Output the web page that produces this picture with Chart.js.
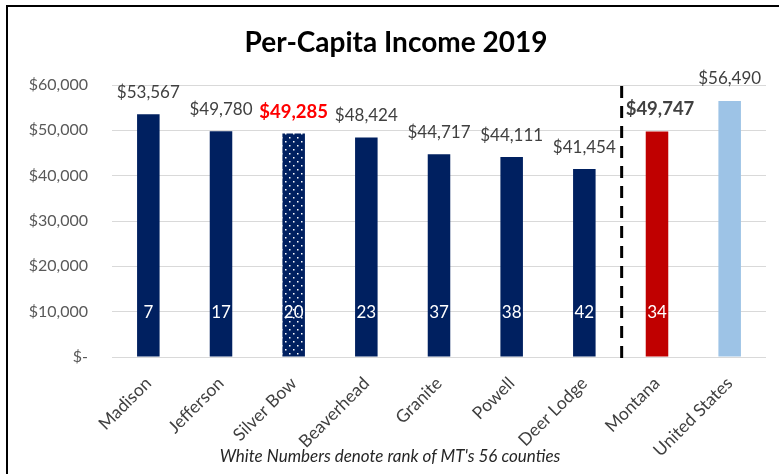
<!DOCTYPE html>
<html>
<head>
<meta charset="utf-8">
<script src="https://cdn.jsdelivr.net/npm/chart.js@4"></script>
<style>
  html, body { margin: 0; padding: 0; background: #fff; }
  #wrap { position: relative; width: 779px; height: 474px; overflow: hidden; }
  #frame { position: absolute; left: 6px; top: 5px; width: 800px; height: 500px;
           border-left: 2px solid #000; border-top: 2px solid #000; }
  canvas { position: absolute; left: 0; top: 0; }
</style>
</head>
<body>
<div id="wrap">
  <div id="frame"></div>
  <canvas id="income" width="779" height="474"></canvas>
</div>
<script>
const areas = ['Madison', 'Jefferson', 'Silver Bow', 'Beaverhead', 'Granite', 'Powell', 'Deer Lodge', 'Montana', 'United States'];
const incomes = [53567, 49780, 49285, 48424, 44717, 44111, 41454, 49747, 56490];
const ranks = ['7', '17', '20', '23', '37', '38', '42', '34', ''];
const yTicks = [0, 10000, 20000, 30000, 40000, 50000, 60000];

const NAVY = '#002060';
const RED = '#C00000';
const LIGHT = '#9DC3E6';

function dotPattern() {
    let c = document.createElement('canvas');
    c.width = 8;
    c.height = 8;
    let g = c.getContext('2d');
    g.fillStyle = NAVY;
    g.fillRect(0, 0, 8, 8);
    g.fillStyle = '#fff';
    g.fillRect(1, 1, 1.5, 1.5);
    g.fillRect(5, 5, 1.5, 1.5);
    return g.createPattern(c, 'repeat');
}

function money(v) {
    if (v === 0) return '$-';
    return '$' + v.toLocaleString('en-US');
}

const barColors = areas.map((a, i) => {
    if (a === 'Silver Bow') return dotPattern();
    if (a === 'Montana') return RED;
    if (a === 'United States') return LIGHT;
    return NAVY;
});

const extras = {
    id: 'extras',
    afterDatasetsDraw(chart) {
        const ctx = chart.ctx;
        const area = chart.chartArea;
        const y = chart.scales.y;
        const bars = chart.getDatasetMeta(0).data;
        ctx.save();

        // title
        ctx.fillStyle = '#000';
        ctx.font = 'bold 28px Lato';
        ctx.textAlign = 'center';
        ctx.textBaseline = 'middle';
        ctx.fillText('Per-Capita Income 2019', 396, 43);

        // value labels and ranks
        bars.forEach((bar, i) => {
            let name = areas[i];
            let top = y.getPixelForValue(incomes[i]);
            let bold = name === 'Silver Bow' || name === 'Montana';
            ctx.font = bold ? 'bold 18.5px Lato' : '17px Lato';
            ctx.fillStyle = name === 'Silver Bow' ? '#FF0000' : '#404040';
            let dx = name === 'Montana' ? 3 : 0;
            ctx.fillText(money(incomes[i]), bar.x + dx, top - 22);

            if (ranks[i]) {
                ctx.font = '17px Lato';
                ctx.fillStyle = '#fff';
                ctx.fillText(ranks[i], bar.x, area.bottom - 44);
            }
        });

        // separator between counties and state
        let xSep = (bars[6].x + bars[7].x) / 2 + 1;
        ctx.strokeStyle = '#000';
        ctx.lineWidth = 3;
        ctx.setLineDash([12, 8]);
        ctx.beginPath();
        ctx.moveTo(xSep, area.top + 1);
        ctx.lineTo(xSep, area.bottom + 3);
        ctx.stroke();
        ctx.setLineDash([]);

        // footnote
        ctx.font = 'italic 17px Lato';
        ctx.fillStyle = '#262626';
        ctx.fillText("White Numbers denote rank of MT's 56 counties", 390, 457);
        ctx.restore();
    }
};

new Chart(document.getElementById('income'), {
    type: 'bar',
    data: {
        labels: areas,
        datasets: [{
            data: incomes,
            backgroundColor: barColors,
            categoryPercentage: 1,
            barPercentage: 0.31
        }]
    },
    options: {
        responsive: false,
        animation: false,
        layout: { padding: { top: 85, right: 13, left: 0, bottom: 0 } },
        plugins: {
            legend: { display: false },
            tooltip: { enabled: false }
        },
        scales: {
            x: {
                grid: { display: false },
                border: { display: false },
                ticks: {
                    autoSkip: false,
                    maxRotation: 45,
                    minRotation: 45,
                    padding: 8,
                    color: '#404040',
                    font: { family: 'Lato', size: 17.5 }
                },
                afterFit(scale) { scale.height = 117; }
            },
            y: {
                min: 0,
                max: 60000,
                afterBuildTicks(scale) { scale.ticks = yTicks.map(v => ({ value: v })); },
                grid: { color: '#D9D9D9', drawTicks: false },
                border: { display: false },
                ticks: {
                    padding: 24,
                    color: '#595959',
                    font: { family: 'Lato', size: 16 },
                    callback: v => money(v)
                },
                afterFit(scale) { scale.width = 112; }
            }
        }
    },
    plugins: [extras]
});
</script>
</body>
</html>
